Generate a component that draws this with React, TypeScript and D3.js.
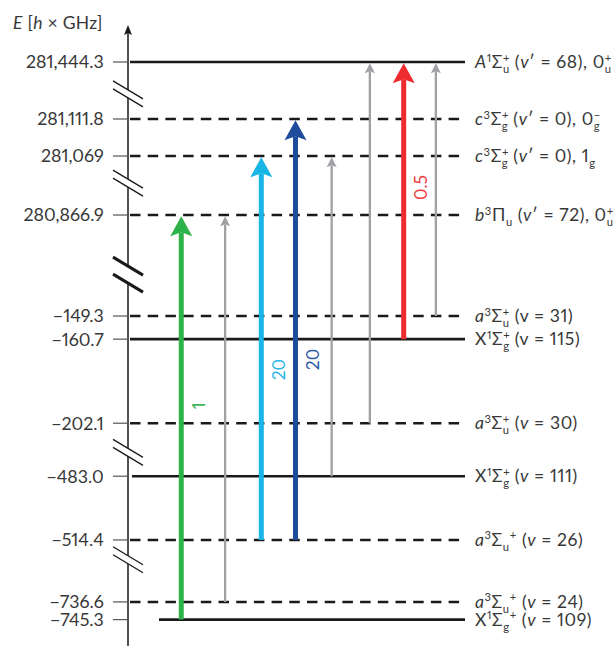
import React from 'react';
import * as d3 from 'd3';

// ---------- data ----------
const levelValues = [281444.3, 281111.8, 281069, 280866.9, -149.3, -160.7, -202.1, -483.0, -514.4, -736.6, -745.3];
const tickLabels = ['281,444.3', '281,111.8', '281,069', '280,866.9', '−149.3', '−160.7', '−202.1', '−483.0', '−514.4', '−736.6', '−745.3'];
const levelDashed = [false, true, true, true, true, false, true, false, true, true, false];
const levelSegment = [0, 1, 1, 2, 3, 3, 3, 4, 4, 5, 5];

type Part = [string, string];
// kinds: n normal, i italic, p superscript, b subscript, P stacked sup, B stacked sub (under previous)
const stateLabels: Part[][] = [
  [['A', 'i'], ['1', 'p'], ['Σ', 'n'], ['+', 'P'], ['u', 'B'], [' (', 'n'], ['v', 'i'], ['′ = 68), 0', 'n'], ['+', 'P'], ['u', 'B']],
  [['c', 'i'], ['3', 'p'], ['Σ', 'n'], ['+', 'P'], ['g', 'B'], [' (', 'n'], ['v', 'i'], ['′ = 0), 0', 'n'], ['−', 'P'], ['g', 'B']],
  [['c', 'i'], ['3', 'p'], ['Σ', 'n'], ['+', 'P'], ['g', 'B'], [' (', 'n'], ['v', 'i'], ['′ = 0), 1', 'n'], ['g', 'b']],
  [['b', 'i'], ['3', 'p'], ['Π', 'n'], ['u', 'b'], [' (', 'n'], ['v', 'i'], ['′ = 72), 0', 'n'], ['+', 'P'], ['u', 'B']],
  [['a', 'i'], ['3', 'p'], ['Σ', 'n'], ['+', 'P'], ['u', 'B'], [' (v = 31)', 'n']],
  [['X', 'n'], ['1', 'p'], ['Σ', 'n'], ['+', 'P'], ['g', 'B'], [' (v = 115)', 'n']],
  [['a', 'i'], ['3', 'p'], ['Σ', 'n'], ['+', 'P'], ['u', 'B'], [' (', 'n'], ['v', 'i'], [' = 30)', 'n']],
  [['X', 'n'], ['1', 'p'], ['Σ', 'n'], ['+', 'P'], ['g', 'B'], [' (', 'n'], ['v', 'i'], [' = 111)', 'n']],
  [['a', 'i'], ['3', 'p'], ['Σ', 'n'], ['u', 'b'], ['+', 'p'], [' (', 'n'], ['v', 'i'], [' = 26)', 'n']],
  [['a', 'i'], ['3', 'p'], ['Σ', 'n'], ['u', 'b'], ['+', 'p'], [' (', 'n'], ['v', 'i'], [' = 24)', 'n']],
  [['X', 'n'], ['1', 'p'], ['Σ', 'n'], ['g', 'b'], ['+', 'p'], [' (', 'n'], ['v', 'i'], [' = 109)', 'n']],
];

// transitions
const arrowFrom = [-745.3, -736.6, -514.4, -514.4, -483.0, -202.1, -160.7, -149.3];
const arrowTo = [280866.9, 280866.9, 281069, 281111.8, 281069, 281444.3, 281444.3, 281444.3];
const arrowColumn = [15.3, 28.4, 39.2, 49.4, 60.2, 71.6, 81.7, 91.3];
const arrowLabels = ['1', '', '20', '20', '', '', '0.5', ''];

// ---------- styles / layout ----------
const arrowColors = ['#2db34a', '#a0a1a4', '#19b5e5', '#1f4b9d', '#a0a1a4', '#a0a1a4', '#ee2b2f', '#a0a1a4'];
const arrowLabelColors = ['#43b55a', '', '#2cb8e6', '#2d58a6', '', '', '#ef3b3e', ''];
const arrowLabelFrac = [0.53, 0, 0.445, 0.43, 0, 0, 0.55, 0];

const segmentScale = [1, 0.865, 1, 2.03, 2.03, 2.03]; // px per GHz within each axis segment
const segmentGaps = [57, 59, 101, 53, 62]; // px between consecutive axis segments (axis breaks)
const breakFrac = [0.56, 0.46, 0.59, 0.55, 0.32];
const breakThick = [false, false, true, false, false];

const W = 614, H = 646;
const axisX = 128;
const lineX0 = 130, lineX1 = 465;
const topY = 62;
const FONT = 'Lato, "Open Sans", sans-serif';
const TEXT = '#383838';
const NUM = { fontVariantNumeric: 'proportional-nums', whiteSpace: 'pre' } as any;
const LABEL_LS = 0.6;

// build piecewise (broken) axis scale
const levelYs: number[] = [];
levelValues.forEach((v, i) => {
  if (i === 0) { levelYs.push(topY); return; }
  const prev = levelYs[i - 1];
  if (levelSegment[i] === levelSegment[i - 1]) {
    levelYs.push(prev + (levelValues[i - 1] - v) * segmentScale[levelSegment[i]]);
  } else {
    levelYs.push(prev + segmentGaps[levelSegment[i - 1]]);
  }
});
const y = d3.scaleLinear().domain(levelValues).range(levelYs);
const x = d3.scaleLinear().domain([0, 100]).range([lineX0, lineX1]);

function RichText({ parts, x0, y0, size }: { parts: Part[]; x0: number; y0: number; size: number }) {
  const small = size * 0.64;
  let shift = 0;
  let prevW = 0;
  const spans: any[] = [];
  parts.forEach(([t, k], i) => {
    let target = 0;
    let fs = size;
    let dx = 0;
    const italic = k === 'i';
    if (k === 'p' || k === 'P') { target = -size * 0.37; fs = small; }
    if (k === 'b' || k === 'B') { target = size * 0.29; fs = small; }
    if (k === 'B') dx = -prevW;
    const dy = target - shift;
    shift = target;
    prevW = t.length * (small * 0.58 + LABEL_LS);
    spans.push(
      <tspan key={i} dx={dx || undefined} dy={dy || undefined} fontSize={fs} fontStyle={italic ? 'italic' : 'normal'}>
        {t}
      </tspan>
    );
  });
  return (
    <text x={x0} y={y0} fontFamily={FONT} fontSize={size} fill={TEXT} letterSpacing={LABEL_LS} style={NUM}>
      {spans}
    </text>
  );
}

function arrowHead(cx: number, tip: number, w: number, L: number, n: number) {
  const p = d3.path();
  p.moveTo(cx, tip);
  p.lineTo(cx + w / 2, tip + L);
  p.lineTo(cx, tip + L - n);
  p.lineTo(cx - w / 2, tip + L);
  p.closePath();
  return p.toString();
}

export default function App() {
  const breaks = segmentGaps.map((g, i) => {
    const lastIdx = levelSegment.lastIndexOf(i);
    const y0 = levelYs[lastIdx];
    const cy = y0 + g * breakFrac[i];
    const thick = breakThick[i];
    const off = thick ? 17 : 8;
    const dy = 18;
    const xa = axisX - 15, xb = axisX + 15;
    const l1 = [xa, cy - off / 2 - dy / 2, xb, cy - off / 2 + dy / 2];
    const l2 = [xa, cy + off / 2 - dy / 2, xb, cy + off / 2 + dy / 2];
    return (
      <g key={'br' + i}>
        <polygon points={`${l1[0]},${l1[1]} ${l1[2]},${l1[3]} ${l2[2]},${l2[3]} ${l2[0]},${l2[1]}`} fill="#fff" />
        <line x1={l1[0]} y1={l1[1]} x2={l1[2]} y2={l1[3]} stroke="#1a1a1a" strokeWidth={thick ? 3 : 1.3} />
        <line x1={l2[0]} y1={l2[1]} x2={l2[2]} y2={l2[3]} stroke="#1a1a1a" strokeWidth={thick ? 3 : 1.3} />
      </g>
    );
  });

  return (
    <svg width={W} height={H} style={{ position: 'absolute', left: 0, top: 0, background: '#fff' }}>
      <rect width={W} height={H} fill="#fff" />
      {/* axis title */}
      <text x={13} y={29} fontFamily={FONT} fontSize={17.5} fill={TEXT} letterSpacing={0.3} style={NUM}>
        <tspan fontStyle="italic">E</tspan>
        <tspan> [</tspan>
        <tspan fontStyle="italic">h</tspan>
        <tspan>{' × GHz]'}</tspan>
      </text>

      {/* level lines */}
      {levelValues.map((v, i) => {
        const start = i === levelValues.length - 1 ? 159 : i === 7 ? 132 : lineX0;
        return (
          <line key={'lv' + i} x1={start} x2={lineX1} y1={y(v)} y2={y(v)} stroke="#1a1a1a" strokeWidth={2.6}
            strokeDasharray={levelDashed[i] ? '10.5,7.2' : undefined} />
        );
      })}

      {/* axis */}
      <line x1={axisX} x2={axisX} y1={H} y2={32} stroke="#1a1a1a" strokeWidth={1.5} />
      <path d={arrowHead(axisX, 25, 8, 10, 2)} fill="#1a1a1a" />
      {breaks}

      {/* ticks and labels */}
      {levelValues.map((v, i) => (
        <g key={'tk' + i}>
          <line x1={axisX - 15} x2={axisX} y1={y(v)} y2={y(v)} stroke="#555" strokeWidth={1.2} />
          <text x={103.8} y={y(v) + 6.4} textAnchor="end" fontFamily={FONT} fontSize={17.8} fill={TEXT} style={NUM}>
            {tickLabels[i]}
          </text>
        </g>
      ))}

      {/* state labels */}
      {levelValues.map((v, i) => (
        <RichText key={'sl' + i} parts={stateLabels[i]} x0={475} y0={y(v) + 6} size={17.5} />
      ))}

      {/* transition arrows */}
      {arrowFrom.map((f, i) => {
        const cx = x(arrowColumn[i]);
        const bottom = y(f);
        const tip = y(arrowTo[i]) + 1.2;
        const bold = arrowLabels[i] !== '';
        const w = bold ? 22 : 10;
        const L = bold ? 20 : 10;
        const n = bold ? 4 : 2;
        const sw = bold ? 5 : 2.3;
        const lblY = bottom - (bottom - tip) * arrowLabelFrac[i];
        const lblX = cx + 17;
        return (
          <g key={'ar' + i}>
            <line x1={cx} x2={cx} y1={bottom} y2={tip + L - n} stroke={arrowColors[i]} strokeWidth={sw} />
            <path d={arrowHead(cx, tip, w, L, n)} fill={arrowColors[i]} />
            {bold && (
              <text x={lblX} y={lblY} dy="0.36em" textAnchor="middle" transform={`rotate(-90, ${lblX}, ${lblY})`}
                fontFamily={FONT} fontSize={17.5} fill={arrowLabelColors[i]} style={NUM}>
                {arrowLabels[i]}
              </text>
            )}
          </g>
        );
      })}
    </svg>
  );
}
